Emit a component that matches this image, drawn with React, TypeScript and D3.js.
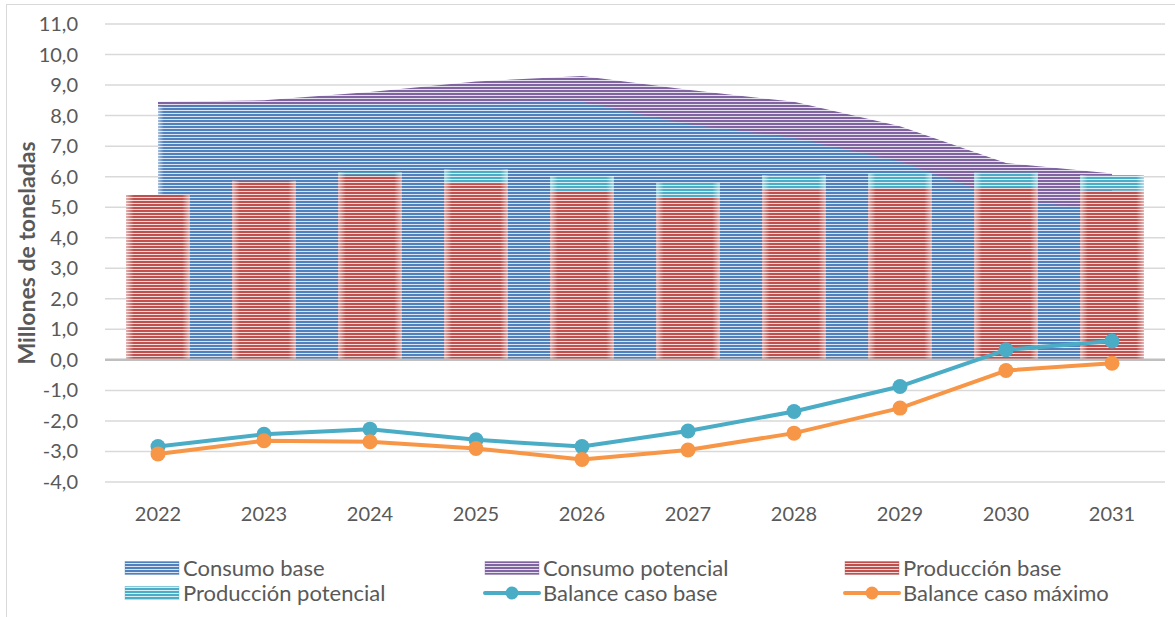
import React from "react";
import * as d3 from "d3";

// Years on the category axis
const years = ["2022", "2023", "2024", "2025", "2026", "2027", "2028", "2029", "2030", "2031"];

// Consumption (areas), million tonnes
const consumoBase = [8.3, 8.35, 8.4, 8.42, 8.45, 7.72, 7.27, 6.5, 5.25, 4.9];
const consumoPotencial = [8.45, 8.5, 8.77, 9.12, 9.3, 8.85, 8.45, 7.65, 6.45, 6.1];

// Production (stacked bars), million tonnes
const produccionBase = [5.4, 5.87, 6.07, 5.78, 5.53, 5.32, 5.56, 5.62, 5.64, 5.54];
const produccionPotencial = [0, 0, 0.07, 0.46, 0.49, 0.48, 0.49, 0.49, 0.49, 0.51];

// Balance lines, million tonnes
const balanceBase = [-2.84, -2.44, -2.27, -2.62, -2.84, -2.33, -1.69, -0.87, 0.33, 0.62];
const balanceMaximo = [-3.08, -2.65, -2.68, -2.9, -3.26, -2.95, -2.4, -1.58, -0.35, -0.11];

const yTicks = [-4, -3, -2, -1, 0, 1, 2, 3, 4, 5, 6, 7, 8, 9, 10, 11];

const FONT = "Lato, 'Open Sans', sans-serif";
const TEXT = "#595959";

const C = {
  blue: "#4F81BD",
  blueLight: "#dbe4f0",
  purple: "#8064A2",
  purpleLight: "#e4dfec",
  red: "#C0504D",
  redLight: "#f1dcdb",
  teal: "#4BACC6",
  tealLight: "#d9eef4",
  orange: "#F79646",
};

const W = 1175;
const H = 617;

function Stripes({ id, color, light }: { id: string; color: string; light: string }) {
  return (
    <pattern id={id} width={6} height={3} patternUnits="userSpaceOnUse">
      <rect x={0} y={0} width={6} height={3} fill={light} />
      <rect x={0} y={0} width={6} height={2} fill={color} />
    </pattern>
  );
}

export default function App() {
  const x = d3.scaleBand<string>().domain(years).range([105, 1165]).padding(0);
  const y = d3.scaleLinear().domain([-4, 11]).range([482, 24]);
  const cx = (i: number) => (x(years[i]) as number) + x.bandwidth() / 2;
  const barW = x.bandwidth() * 0.6;

  const area = d3
    .area<number>()
    .x((_, i) => cx(i))
    .y0(y(0))
    .y1((d) => y(d));

  const line = d3
    .line<number>()
    .x((_, i) => cx(i))
    .y((d) => y(d));

  const legendRows = [568, 593];
  const legendCols = [125, 485, 845];
  const swW = 54;
  const swH = 13;

  const legend = [
    { label: "Consumo base", kind: "box", fill: "url(#pBlue)", stroke: C.blue },
    { label: "Consumo potencial", kind: "box", fill: "url(#pPurple)", stroke: C.purple },
    { label: "Producción base", kind: "box", fill: "url(#pRed)", stroke: C.red },
    { label: "Producción potencial", kind: "box", fill: "url(#pTeal)", stroke: C.teal },
    { label: "Balance caso base", kind: "line", color: C.teal },
    { label: "Balance caso máximo", kind: "line", color: C.orange },
  ];

  return (
    <svg width={W} height={H} style={{ display: "block", position: "absolute", left: 0, top: 0 }}>
      <defs>
        <Stripes id="pBlue" color={C.blue} light={C.blueLight} />
        <Stripes id="pPurple" color={C.purple} light={C.purpleLight} />
        <Stripes id="pRed" color={C.red} light={C.redLight} />
        <Stripes id="pTeal" color={C.teal} light={C.tealLight} />
        <linearGradient id="edgeSoft" x1="0" x2="1" y1="0" y2="0">
          <stop offset="0" stopColor="#fff" stopOpacity={0.55} />
          <stop offset="0.12" stopColor="#fff" stopOpacity={0} />
          <stop offset="0.88" stopColor="#fff" stopOpacity={0} />
          <stop offset="1" stopColor="#fff" stopOpacity={0.55} />
        </linearGradient>
        <linearGradient id="areaEdge" x1="0" x2="1" y1="0" y2="0">
          <stop offset="0" stopColor="#fff" stopOpacity={0.5} />
          <stop offset="1" stopColor="#fff" stopOpacity={0} />
        </linearGradient>
      </defs>

      <rect x={0} y={0} width={W} height={H} fill="#fff" />
      <rect x={6.5} y={4.5} width={W + 10} height={H + 10} fill="none" stroke="#d9d9d9" strokeWidth={1} />

      {/* gridlines */}
      {yTicks.map((t) =>
        t === 0 ? null : (
          <line key={t} x1={105} x2={1165} y1={y(t)} y2={y(t)} stroke="#d9d9d9" strokeWidth={1.5} />
        )
      )}

      {/* consumption areas */}
      <path d={area(consumoPotencial) || ""} fill="url(#pPurple)" />
      <path d={area(consumoBase) || ""} fill="url(#pBlue)" />
      <rect x={cx(0)} y={y(consumoBase[0])} width={6} height={y(0) - y(consumoBase[0])} fill="url(#areaEdge)" />

      {/* production bars */}
      {years.map((yr, i) => {
        const left = cx(i) - barW / 2;
        const b = produccionBase[i];
        const p = produccionPotencial[i];
        return (
          <g key={yr}>
            <rect x={left} y={y(b)} width={barW} height={y(0) - y(b)} fill="url(#pRed)" />
            {p > 0 && <rect x={left} y={y(b + p)} width={barW} height={y(b) - y(b + p)} fill="url(#pTeal)" />}
            <rect x={left} y={y(b + p)} width={barW} height={y(0) - y(b + p)} fill="url(#edgeSoft)" />
          </g>
        );
      })}

      {/* zero axis */}
      <line x1={105} x2={1165} y1={y(0)} y2={y(0)} stroke="#bfbfbf" strokeWidth={2.5} />

      {/* balance lines */}
      {[
        { data: balanceBase, color: C.teal },
        { data: balanceMaximo, color: C.orange },
      ].map((s, k) => (
        <g key={k}>
          <path d={line(s.data) || ""} fill="none" stroke={s.color} strokeWidth={4} strokeLinejoin="round" />
          {s.data.map((v, i) => (
            <circle key={i} cx={cx(i)} cy={y(v)} r={7.5} fill={s.color} />
          ))}
        </g>
      ))}

      {/* y tick labels */}
      {yTicks.map((t) => (
        <text
          key={t}
          x={78}
          y={y(t)}
          dy="0.35em"
          textAnchor="end"
          fontFamily={FONT}
          fontSize={20}
          fill={TEXT}
        >
          {d3.format(".1f")(t).replace(".", ",").replace("−", "-")}
        </text>
      ))}

      {/* x tick labels */}
      {years.map((yr, i) => (
        <text key={yr} x={cx(i)} y={514} dy="0.35em" textAnchor="middle" fontFamily={FONT} fontSize={20} fill={TEXT}>
          {yr}
        </text>
      ))}

      {/* y axis title */}
      <text
        transform={`translate(27, ${y(3.5)}) rotate(-90)`}
        textAnchor="middle"
        dy="0.35em"
        fontFamily={FONT}
        fontWeight="bold"
        fontSize={23}
        fill={TEXT}
      >
        Millones de toneladas
      </text>

      {/* legend */}
      {legend.map((e, i) => {
        const lx = legendCols[i % 3];
        const ly = legendRows[Math.floor(i / 3)];
        return (
          <g key={e.label}>
            {e.kind === "box" ? (
              <rect x={lx} y={ly - swH / 2} width={swW} height={swH} fill={e.fill} stroke={e.stroke} strokeOpacity={0.35} />
            ) : (
              <g>
                <line x1={lx} x2={lx + swW} y1={ly} y2={ly} stroke={e.color} strokeWidth={4} strokeLinecap="round" />
                <circle cx={lx + swW / 2} cy={ly} r={6.5} fill={e.color} />
              </g>
            )}
            <text x={lx + swW + 4} y={ly} dy="0.35em" fontFamily={FONT} fontSize={22} fill={TEXT}>
              {e.label}
            </text>
          </g>
        );
      })}
    </svg>
  );
}
